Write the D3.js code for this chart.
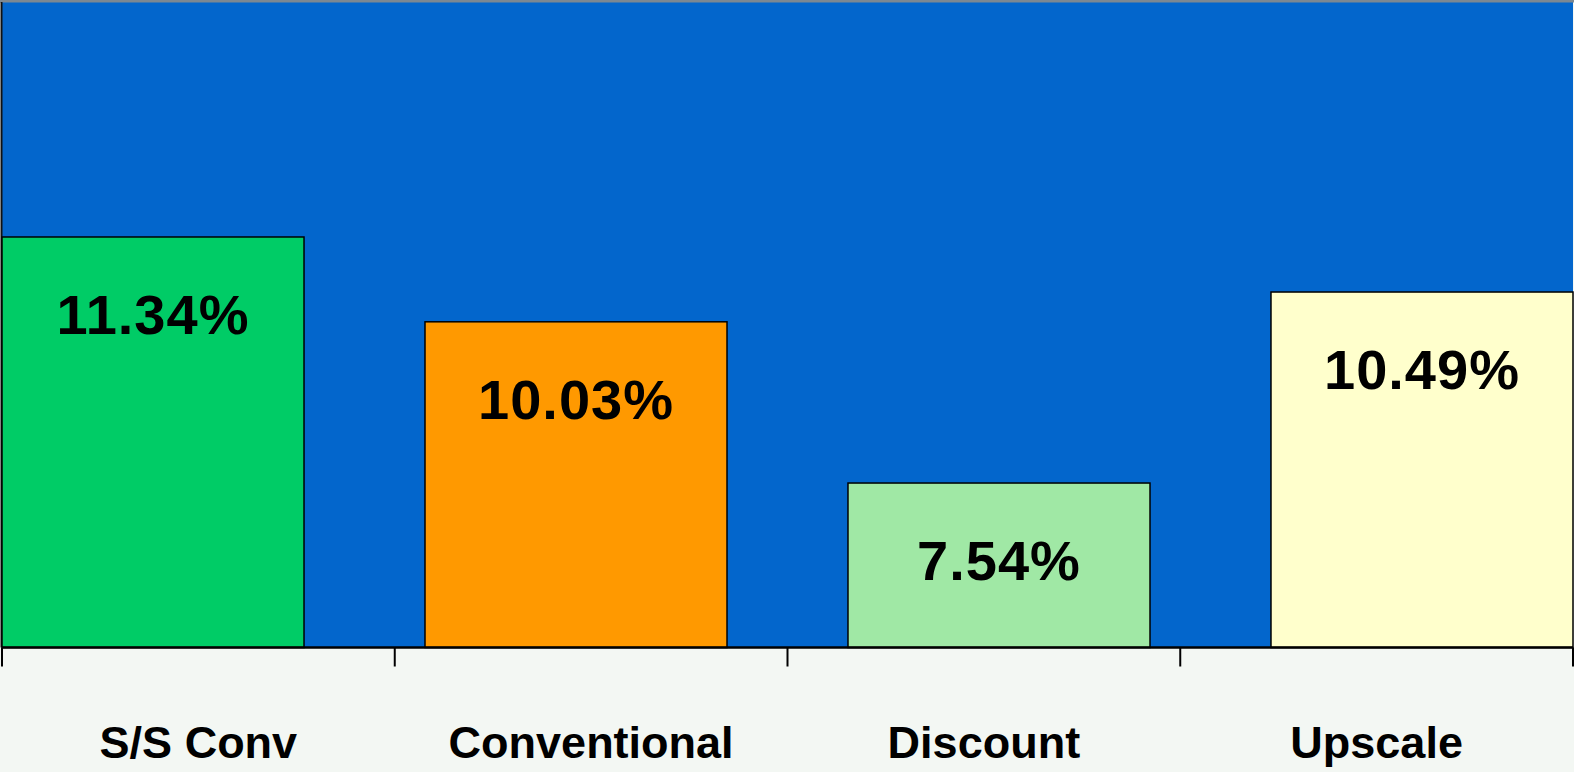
<!DOCTYPE html>
<html>
<head>
<meta charset="utf-8">
<script src="https://cdn.jsdelivr.net/npm/d3@7"></script>
<style>
  html, body { margin: 0; padding: 0; background: #f3f7f3; overflow: hidden; }
  svg { display: block; }
  text { font-family: "Liberation Sans", Arial, sans-serif; font-weight: bold; fill: #000; }
</style>
</head>
<body>
<svg id="chart" width="1574" height="772"></svg>
<script>
// Store formats and their average values (%)
const categories = ["S/S Conv", "Conventional", "Discount", "Upscale"];
const values = [11.34, 10.03, 7.54, 10.49];
const barColors = ["#00cc66", "#ff9900", "#a0e8a5", "#ffffcc"];
const yDomain = [5, 15];

const W = 1574, H = 772;
const plot = { left: 2, right: 1573, top: 0, bottom: 647.5 };

const svg = d3.select("#chart");

// Scales
const x = d3.scaleBand()
  .domain(categories)
  .range([plot.left, plot.right])
  .paddingInner(0.286)
  .paddingOuter(0);

// Axis bands: equal divisions of the category axis
const xAxisScale = d3.scaleBand()
  .domain(categories)
  .range([plot.left, plot.right])
  .padding(0);

const y = d3.scaleLinear().domain(yDomain).range([plot.bottom, plot.top]);

// Plot background
svg.append("rect")
  .attr("x", plot.left).attr("y", plot.top)
  .attr("width", plot.right - plot.left).attr("height", plot.bottom - plot.top)
  .attr("fill", "#0366cc");

// Thin grey edge at the top of the frame
svg.append("rect")
  .attr("x", 0).attr("y", 0).attr("width", W).attr("height", 2.5)
  .attr("fill", "#7d8891");

// Left frame line
svg.append("line")
  .attr("x1", 1.5).attr("x2", 1.5)
  .attr("y1", 2).attr("y2", plot.bottom)
  .attr("stroke", "#111").attr("stroke-width", 2);

// Bars
svg.append("g").selectAll("rect")
  .data(categories)
  .join("rect")
  .attr("x", d => x(d))
  .attr("y", (d, i) => y(values[i]))
  .attr("width", x.bandwidth())
  .attr("height", (d, i) => y(yDomain[0]) - y(values[i]))
  .attr("fill", (d, i) => barColors[i])
  .attr("stroke", "#000")
  .attr("stroke-width", 1.5);

// Value labels inside bars
svg.append("g").selectAll("text")
  .data(categories)
  .join("text")
  .attr("x", d => x(d) + x.bandwidth() / 2)
  .attr("y", (d, i) => y(values[i]) + 97)
  .attr("text-anchor", "middle")
  .attr("font-size", 56)
  .attr("letter-spacing", 1)
  .text((d, i) => values[i].toFixed(2) + "%");

// Category axis
const axisG = svg.append("g")
  .attr("transform", `translate(0,${plot.bottom})`);

axisG.append("line")
  .attr("x1", plot.left).attr("x2", plot.right)
  .attr("y1", 0).attr("y2", 0)
  .attr("stroke", "#000").attr("stroke-width", 2.5);

const tickPositions = categories.map(c => xAxisScale(c)).concat([plot.right]);
axisG.selectAll("line.tick")
  .data(tickPositions)
  .join("line")
  .attr("class", "tick")
  .attr("x1", d => d).attr("x2", d => d)
  .attr("y1", 0).attr("y2", 19)
  .attr("stroke", "#000").attr("stroke-width", 2);

axisG.selectAll("text")
  .data(categories)
  .join("text")
  .attr("x", d => xAxisScale(d) + xAxisScale.bandwidth() / 2)
  .attr("y", 110)
  .attr("text-anchor", "middle")
  .attr("font-size", 45)
  .text(d => d);
</script>
</body>
</html>
